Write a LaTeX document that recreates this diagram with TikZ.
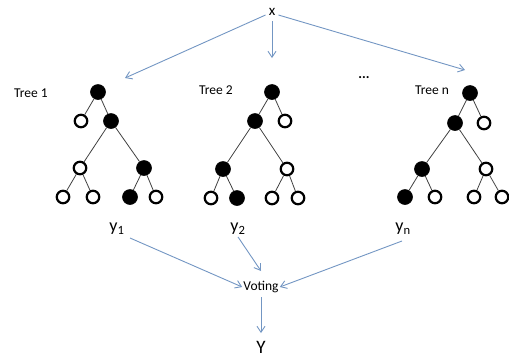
\documentclass[tikz,border=0pt]{standalone}
\usepackage{fontspec}
\setmainfont{Carlito}
\usetikzlibrary{arrows.meta}
\definecolor{arr}{RGB}{115,150,195}
\tikzset{
  fnode/.style={circle,fill=black,draw=black,line width=0.6pt,minimum size=15pt,inner sep=0pt},
  onode/.style={circle,fill=white,draw=black,line width=2.2pt,minimum size=12.5pt,inner sep=0pt},
  edge/.style={draw=black!75,line width=0.8pt},
  flow/.style={draw=arr,line width=0.9pt,-{Straight Barb[length=6pt,width=8pt]}},
  lbl/.style={inner sep=1pt,font=\fontsize{13.5}{15}\selectfont},
}
\begin{document}
\begin{tikzpicture}[x=1pt,y=-1pt]
\useasboundingbox (0,0) rectangle (509,360);
% top
\node[inner sep=1pt,font=\fontsize{15}{17}\selectfont] (x) at (272,12) {x};
\coordinate (t1) at (125,78);
\coordinate (t2) at (272,58);
\coordinate (t3) at (465,70);
\draw[flow] (x.west) ++(-2,3) -- (t1);
\draw[flow] (x.south) ++(0,4) -- (t2);
\draw[flow] (x.east) ++(2,3) -- (t3);
% labels
\node[lbl] (l1) at (31,93) {Tree 1};
\node[lbl] (l2) at (216,90) {Tree 2};
\node[lbl] (ln) at (432,90) {Tree n};
\node[font=\bfseries\fontsize{14}{16}\selectfont] (dots) at (364,78) {...};
% Tree 1
\node[fnode] (a0) at (98,92) {};
\node[onode] (a1) at (81,121) {};
\node[fnode] (a2) at (111,121) {};
\node[onode] (a3) at (80,168) {};
\node[fnode] (a4) at (144,168) {};
\node[onode] (a5) at (63,197) {};
\node[onode] (a6) at (93,197) {};
\node[fnode] (a7) at (130,197) {};
\node[onode] (a8) at (156,197) {};
\draw[edge] (a0) -- (a1); \draw[edge] (a0) -- (a2);
\draw[edge] (a2) -- (a3); \draw[edge] (a2) -- (a4);
\draw[edge] (a3) -- (a5); \draw[edge] (a3) -- (a6);
\draw[edge] (a4) -- (a7); \draw[edge] (a4) -- (a8);
% Tree 2
\node[fnode] (b0) at (272,92) {};
\node[fnode] (b1) at (255,121) {};
\node[onode] (b2) at (285,121) {};
\node[fnode] (b3) at (223,169) {};
\node[onode] (b4) at (287,169) {};
\node[onode] (b5) at (211,198) {};
\node[fnode] (b6) at (237,198) {};
\node[onode] (b7) at (272,198) {};
\node[onode] (b8) at (298,198) {};
\draw[edge] (b0) -- (b1); \draw[edge] (b0) -- (b2);
\draw[edge] (b1) -- (b3); \draw[edge] (b1) -- (b4);
\draw[edge] (b3) -- (b5); \draw[edge] (b3) -- (b6);
\draw[edge] (b4) -- (b7); \draw[edge] (b4) -- (b8);
% Tree n
\node[fnode] (c0) at (470,93) {};
\node[fnode] (c1) at (455,123) {};
\node[onode] (c2) at (484,123) {};
\node[fnode] (c3) at (422,169) {};
\node[onode] (c4) at (486,169) {};
\node[fnode] (c5) at (405,197) {};
\node[onode] (c6) at (435,197) {};
\node[onode] (c7) at (474,197) {};
\node[onode] (c8) at (502,197) {};
\draw[edge] (c0) -- (c1); \draw[edge] (c0) -- (c2);
\draw[edge] (c1) -- (c3); \draw[edge] (c1) -- (c4);
\draw[edge] (c3) -- (c5); \draw[edge] (c3) -- (c6);
\draw[edge] (c4) -- (c7); \draw[edge] (c4) -- (c8);
% outputs
\node[inner sep=1pt,font=\fontsize{18}{20}\selectfont] (y1) at (117,229) {y\textsubscript{1}};
\node[inner sep=1pt,font=\fontsize{18}{20}\selectfont] (y2) at (238,229) {y\textsubscript{2}};
\node[inner sep=1pt,font=\fontsize{18}{20}\selectfont] (yn) at (403,229) {y\textsubscript{n}};
\node[lbl] (v) at (261,287) {Voting};
\node[inner sep=1pt,font=\fontsize{19}{21}\selectfont] (Y) at (261,347) {Y};
\draw[flow] (130,238) -- (v.west);
\draw[flow] (y2.south) ++(0,1) -- (261,271);
\draw[flow] (402,241) -- (v.east);
\draw[flow] (v.south) ++(0,3) -- (261,333);
\end{tikzpicture}
\end{document}
